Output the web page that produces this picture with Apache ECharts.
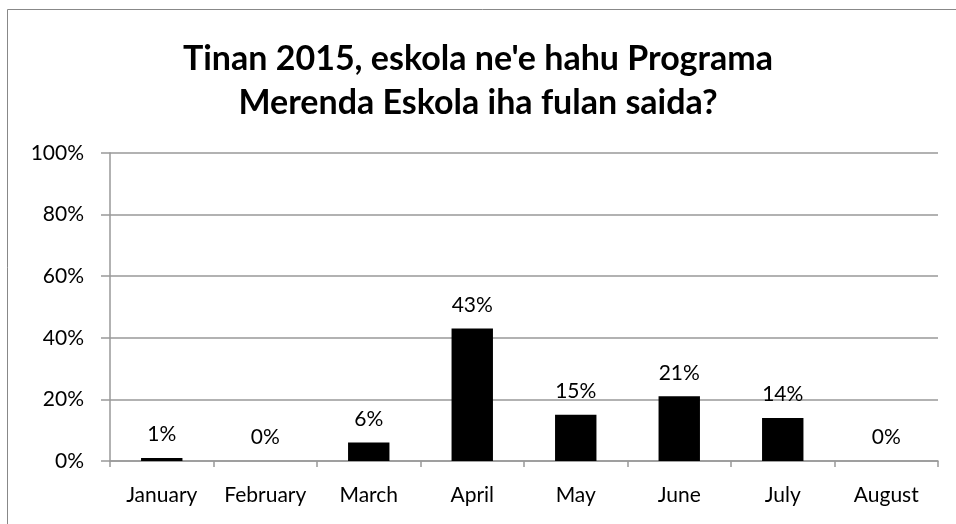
<!DOCTYPE html>
<html><head><meta charset="utf-8">
<script src="https://cdn.jsdelivr.net/npm/echarts@6/dist/echarts.min.js"></script>
<style>html,body{margin:0;padding:0;background:#fff}#c{width:956px;height:524px}</style>
</head><body><div id="c"></div>
<script>
var titleText = "Tinan 2015, eskola ne'e hahu Programa\nMerenda Eskola iha fulan saida?";
var categories = ["January","February","March","April","May","June","July","August"];
var values = [1,0,6,43,15,21,14,0];
var yTicks = [0,20,40,60,80,100];

var chart = echarts.init(document.getElementById('c'), null, {renderer:'canvas'});
var font = 'Lato, "Open Sans", sans-serif';
chart.setOption({
  animation:false,
  backgroundColor:'#fff',
  graphic:[{type:'rect',shape:{x:7.5,y:9.5,width:1000,height:600},style:{fill:'none',stroke:'#888',lineWidth:1},silent:true}],
  title:{text:titleText,left:'center',top:32,textStyle:{fontFamily:font,fontSize:34,fontWeight:'bold',color:'#000',lineHeight:44}},
  grid:{left:110,right:18,top:153,bottom:63,containLabel:false},
  xAxis:{type:'category',data:categories,
    axisLine:{lineStyle:{color:'#999',width:1.5}},
    axisTick:{show:true,alignWithLabel:false,length:6,lineStyle:{color:'#999',width:1.5}},
    axisLabel:{interval:0,hideOverlap:false,fontFamily:font,fontSize:21,color:'#000',margin:24}},
  yAxis:{type:'value',min:yTicks[0],max:yTicks[yTicks.length-1],interval:20,
    axisLine:{show:true,lineStyle:{color:'#999',width:1.5}},
    axisTick:{show:true,length:9,lineStyle:{color:'#999',width:1.5}},
    splitLine:{lineStyle:{color:'#999',width:1.5}},
    axisLabel:{fontFamily:font,fontSize:21,color:'#000',margin:26,formatter:'{value}%'}},
  series:[{type:'bar',data:values,barWidth:'40%',itemStyle:{color:'#000'},
    label:{show:true,position:'top',distance:13,fontFamily:font,fontSize:21,color:'#000',formatter:'{c}%'}}]
});
</script></body></html>
